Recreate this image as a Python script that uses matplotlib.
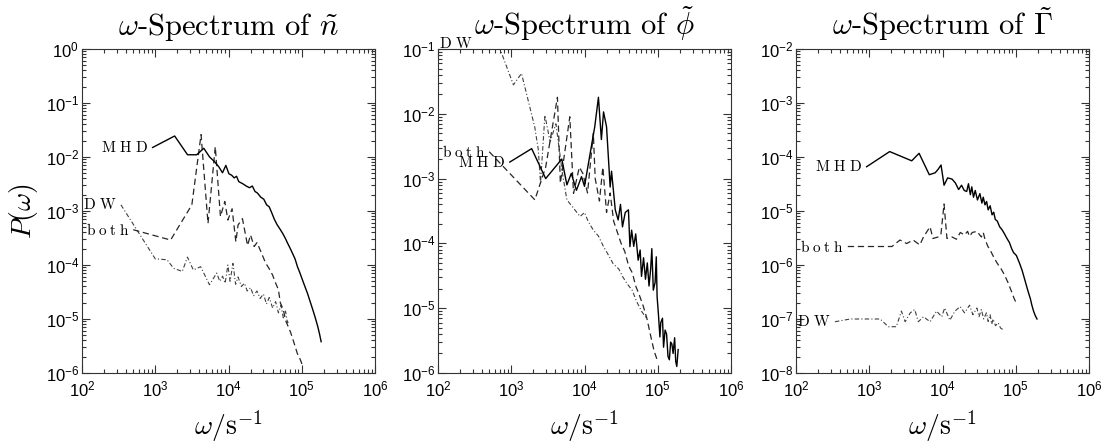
import matplotlib
matplotlib.use("Agg")
import matplotlib.pyplot as plt
from matplotlib.ticker import LogLocator, LogFormatterSciNotation, NullFormatter

plt.rcParams['font.family'] = ['Liberation Sans', 'DejaVu Sans']
plt.rcParams['mathtext.fontset'] = 'custom'
plt.rcParams['mathtext.rm'] = 'Liberation Sans'
plt.rcParams['mathtext.it'] = 'Liberation Sans:italic'
plt.rcParams['mathtext.bf'] = 'Liberation Sans:bold'

# ---- density spectrum (n) ----
n_mhd_w = [920, 1840, 2760, 3680, 4600, 5520, 6440, 7360, 8280, 9200, 10120, 11040, 11960,
           12880, 13800, 15640, 17480, 19320, 21160, 23000, 24840, 27600, 30360, 33120, 35880,
           38640, 42320, 46000, 50600, 55200, 59800, 64400, 69920, 75440, 80960, 87400, 93840,
           101200, 110400, 119600, 128800, 138000, 147200, 156400, 165600, 174800, 184000]
n_mhd_p = [1.5e-2, 2.45e-2, 1.1e-2, 1.1e-2, 1.45e-2, 1.0e-2, 8.2e-3, 6.6e-3, 5.1e-3, 7.0e-3,
           4.9e-3, 4.6e-3, 4.1e-3, 4.4e-3, 3.5e-3, 3.2e-3, 2.9e-3, 2.7e-3, 2.9e-3, 2.3e-3,
           2.15e-3, 1.8e-3, 1.65e-3, 1.3e-3, 1.2e-3, 9.5e-4, 7.0e-4, 5.6e-4, 4.6e-4, 3.8e-4,
           3.1e-4, 2.5e-4, 2.0e-4, 1.6e-4, 1.3e-4, 9.3e-5, 7.3e-5, 5.5e-5, 4.0e-5, 3.0e-5,
           2.2e-5, 1.65e-5, 1.25e-5, 9.5e-6, 7.2e-6, 5.3e-6, 3.8e-6]

n_dw_w = [340, 1000, 1450, 1780, 2340, 2750, 3310, 4170, 5500, 6900, 7600, 8300, 9000, 9800,
          10500, 11500, 12500, 13500, 15000, 16500, 18000, 20000, 22000, 24500, 27000, 30000,
          33000, 36000, 40000, 44000, 48000, 52000, 56000, 60000, 64000, 68000]
n_dw_p = [1.3e-3, 1.3e-4, 1.25e-4, 8.7e-5, 7.6e-5, 1.4e-4, 8.1e-5, 9.3e-5, 4.3e-5, 7.1e-5,
          5.0e-5, 6.2e-5, 4.6e-5, 1.0e-4, 5.0e-5, 1.07e-4, 4.4e-5, 6.0e-5, 4.0e-5, 4.6e-5,
          3.3e-5, 3.8e-5, 2.7e-5, 3.3e-5, 2.4e-5, 2.9e-5, 1.9e-5, 2.5e-5, 1.6e-5, 2.1e-5,
          1.3e-5, 1.8e-5, 1.05e-5, 1.4e-5, 8.5e-6, 9.5e-6]

n_both_w = [500, 1620, 3160, 4220, 5250, 6600, 7760, 8900, 9800, 11200, 12600, 13500, 15500,
            18200, 20000, 22400, 24500, 28000, 32000, 36000, 40000, 43500, 48000, 51000, 56000,
            60000, 66000, 71000, 79000, 87000, 95000, 102000]
n_both_p = [4.5e-4, 2.9e-4, 1.3e-3, 2.6e-2, 5.9e-4, 1.55e-2, 7.9e-4, 1.5e-3, 6.8e-4, 1.1e-3,
            2.7e-4, 5.5e-4, 7.2e-4, 2.3e-4, 3.6e-4, 2.2e-4, 2.6e-4, 1.7e-4, 1.1e-4, 8.5e-5,
            6.5e-5, 4.8e-5, 3.5e-5, 2.0e-5, 1.5e-5, 9.5e-6, 7.0e-6, 5.5e-6, 3.5e-6, 2.3e-6,
            1.8e-6, 1.4e-6]

# ---- potential spectrum (phi) ----
f_mhd_w = [955, 1900, 2950, 4900, 5750, 6600, 7760, 9100, 10000, 13800, 15500, 17000, 18200,
           20000, 22400, 23400, 26300, 28800, 31000, 33000, 36000, 39800, 41700, 44000, 47000,
           50000, 54000, 57500, 60000, 64000, 68000, 72000, 76000, 80000, 83000, 87000, 92000,
           95500, 98000, 102000, 107000, 110000, 116000, 120000, 126000, 132000, 138000,
           144000, 150000, 156000, 162000, 170000, 176000, 182000, 190000]
f_mhd_p = [1.8e-3, 2.9e-3, 1.0e-3, 2.0e-3, 8.0e-4, 1.2e-3, 6.6e-4, 1.07e-3, 7.6e-4, 6.3e-3,
           1.8e-2, 4.0e-3, 1.07e-2, 6.3e-3, 7.4e-4, 1.3e-3, 3.3e-4, 2.3e-4, 4.0e-4, 1.8e-4,
           3.0e-4, 3.3e-4, 8.9e-5, 1.6e-4, 9.0e-5, 1.4e-4, 5.5e-5, 7.9e-5, 3.1e-5, 6.0e-5,
           2.8e-5, 5.0e-5, 2.2e-5, 4.0e-5, 8.3e-5, 1.9e-5, 2.5e-5, 6.2e-5, 1.5e-5, 8.3e-6,
           3.6e-6, 6.0e-6, 7.0e-6, 2.5e-6, 4.6e-6, 4.0e-6, 1.8e-6, 1.6e-6, 3.0e-6, 2.8e-6,
           2.0e-6, 3.5e-6, 1.5e-6, 1.26e-6, 2.3e-6]

f_dw_w = [340, 1070, 1380, 2090, 2340, 2510, 2880, 3390, 4070, 5000, 5750, 7080, 8700, 10000,
          11200, 13200, 15500, 18200, 21400, 24500, 29500, 33000, 38000, 44700, 51000, 60000,
          70000]
f_dw_p = [0.9, 2.8e-2, 4.2e-2, 6.3e-3, 2.8e-3, 8.5e-4, 9.5e-3, 3.7e-3, 7.0e-3, 1.2e-3, 4.7e-4,
          3.5e-4, 2.6e-4, 3.0e-4, 2.2e-4, 1.6e-4, 1.3e-4, 8.9e-5, 6.5e-5, 4.9e-5, 4.0e-5,
          3.1e-5, 2.4e-5, 1.9e-5, 1.3e-5, 9.0e-6, 7.0e-6]

f_both_w = [500, 2100, 2950, 4270, 4680, 6300, 7080, 8500, 9500, 11000, 13200, 14000, 16000,
            17800, 20000, 22400, 25000, 28000, 31600, 35500, 40000, 45000, 50000, 56000, 63000,
            71000, 79000, 89000, 100000]
f_both_p = [2.6e-3, 4.7e-4, 1.5e-3, 1.8e-2, 8.5e-4, 9.0e-3, 5.9e-4, 1.5e-3, 1.2e-3, 6.0e-4,
            5.0e-3, 1.0e-3, 4.5e-4, 1.5e-3, 3.0e-4, 6.0e-4, 2.2e-4, 1.5e-4, 1.0e-4, 7.5e-5,
            4.5e-5, 3.5e-5, 2.2e-5, 1.6e-5, 1.1e-5, 7.0e-6, 4.0e-6, 2.2e-6, 1.5e-6]

# ---- flux spectrum (Gamma) ----
g_mhd_w = [920, 1900, 3800, 4790, 6600, 7940, 8700, 9550, 10500, 11750, 13500, 15000, 16600,
           18200, 19800, 21400, 22600, 24000, 25100, 26500, 28000, 30000, 32400, 34500, 36000,
           38000, 40000, 42000, 44700, 47500, 50000, 52500, 56000, 60300, 65000, 70000, 75900,
           82000, 88000, 93300, 102000, 112000, 122000, 132000, 141000, 150000, 158000, 166000,
           175000, 185000, 195000]
g_mhd_p = [6.6e-5, 1.26e-4, 8.5e-5, 1.17e-4, 4.7e-5, 5.1e-5, 5.9e-5, 7.1e-5, 3.0e-5, 4.1e-5,
           3.9e-5, 3.3e-5, 2.5e-5, 3.0e-5, 2.4e-5, 2.3e-5, 3.2e-5, 2.0e-5, 2.8e-5, 1.8e-5,
           2.4e-5, 1.6e-5, 2.1e-5, 1.4e-5, 1.8e-5, 1.3e-5, 1.5e-5, 1.05e-5, 1.25e-5, 8.5e-6,
           9.5e-6, 7.0e-6, 6.5e-6, 5.1e-6, 4.5e-6, 3.8e-6, 3.1e-6, 2.6e-6, 2.0e-6, 1.7e-6,
           1.5e-6, 1.1e-6, 8.0e-7, 5.5e-7, 4.0e-7, 3.0e-7, 2.4e-7, 1.8e-7, 1.4e-7, 1.15e-7,
           1.0e-7]

g_dw_w = [340, 550, 1020, 1410, 1820, 2340, 2750, 3090, 3630, 4170, 4680, 5500, 6760, 8300,
          9770, 10700, 12600, 14800, 17400, 20000, 23400, 26000, 29500, 31500, 33900, 36500,
          39800, 42000, 44700, 47000, 49000, 53000, 57500, 62000, 67600]
g_dw_p = [8.9e-8, 1.0e-7, 1.0e-7, 1.0e-7, 7.2e-8, 7.2e-8, 1.4e-7, 8.9e-8, 1.3e-7, 1.5e-7,
          8.9e-8, 1.1e-7, 8.9e-8, 1.4e-7, 1.1e-7, 1.6e-7, 9.5e-8, 1.4e-7, 1.7e-7, 1.3e-7,
          1.8e-7, 1.2e-7, 1.6e-7, 1.1e-7, 1.5e-7, 1.0e-7, 1.3e-7, 9.0e-8, 1.2e-7, 8.0e-8,
          1.0e-7, 7.5e-8, 8.5e-8, 6.8e-8, 6.3e-8]

g_both_w = [510, 1150, 2040, 2630, 3240, 3980, 4900, 5500, 6760, 7400, 8700, 9500, 10500,
            11500, 13500, 15500, 17500, 20000, 22000, 23400, 25500, 29500, 33900, 36000, 38000,
            41700, 44700, 50000, 56000, 63000, 70000, 78000, 87000, 95000, 102000]
g_both_p = [2.2e-6, 2.2e-6, 2.2e-6, 2.9e-6, 2.5e-6, 2.9e-6, 2.35e-6, 3.3e-6, 5.1e-6, 3.1e-6,
            3.3e-6, 3.6e-6, 1.35e-5, 3.1e-6, 3.3e-6, 3.0e-6, 4.0e-6, 3.6e-6, 4.2e-6, 3.4e-6,
            4.0e-6, 4.2e-6, 3.3e-6, 4.0e-6, 3.0e-6, 2.2e-6, 1.9e-6, 1.4e-6, 1.07e-6, 8.5e-7,
            6.6e-7, 4.8e-7, 3.3e-7, 2.4e-7, 1.95e-7]

titles = [r'$\omega$-Spectrum of $\tilde{n}$',
          r'$\omega$-Spectrum of $\tilde{\phi}$',
          r'$\omega$-Spectrum of $\tilde{\Gamma}$']
ylims = [(1e-6, 1e0), (1e-6, 1e-1), (1e-8, 1e-2)]
lefts = [82, 438, 796]

lab_mhd = r'$\mathrm{M\ H\ D}$'
lab_dw = r'$\mathrm{D\ W}$'
lab_both = r'$\mathrm{b\;o\;t\;h}$'

SOLID = dict(color='black', lw=1.0, ls='-')
DASH = dict(color='0.15', lw=0.9, ls=(0, (5, 3)))
DOTDASH = dict(color='0.25', lw=0.8, ls=(0, (4, 2, 1, 2)))

fig = plt.figure(figsize=(11.12, 4.45), dpi=100)
W, H = 1112.0, 445.0
axes = []
for i in range(3):
    ax = fig.add_axes([lefts[i] / W, 72 / H, 293 / W, 324 / H])
    ax.set_xscale('log')
    ax.set_yscale('log')
    ax.set_xlim(1e2, 1e6)
    ax.set_ylim(*ylims[i])
    ax.xaxis.set_major_locator(LogLocator(base=10, numticks=10))
    ax.yaxis.set_major_locator(LogLocator(base=10, numticks=12))
    ax.xaxis.set_minor_locator(LogLocator(base=10, subs=range(2, 10), numticks=20))
    ax.yaxis.set_minor_locator(LogLocator(base=10, subs=range(2, 10), numticks=20))
    ax.xaxis.set_minor_formatter(NullFormatter())
    ax.yaxis.set_minor_formatter(NullFormatter())
    ax.xaxis.set_major_formatter(LogFormatterSciNotation())
    ax.yaxis.set_major_formatter(LogFormatterSciNotation())
    ax.tick_params(which='both', direction='in', top=True, right=True, width=0.8, color='0.2')
    ax.tick_params(which='major', length=6, labelsize=12)
    ax.tick_params(which='minor', length=3)
    ax.tick_params(axis='y', pad=2)
    ax.tick_params(axis='x', pad=5)
    for lab in ax.get_yticklabels():
        lab.set_verticalalignment('center_baseline')
    for s in ax.spines.values():
        s.set_linewidth(0.8)
        s.set_color('0.2')
    ax.set_title(titles[i], fontsize=22, family='cmr10', math_fontfamily='cm', pad=10)
    ax.set_xlabel(r'$\omega/\mathrm{s}^{-1}$', fontsize=20, math_fontfamily='cm', labelpad=6)
    axes.append(ax)

axes[0].set_ylabel(r'$P(\omega)$', fontsize=20, math_fontfamily='cm')


def label(ax, w, p, txt):
    ax.annotate(txt, xy=(w[0], p[0]), xytext=(-3, 0), textcoords='offset points',
                ha='right', va='center', fontsize=11, math_fontfamily='cm')


ax = axes[0]
ax.plot(n_dw_w, n_dw_p, **DOTDASH)
ax.plot(n_both_w, n_both_p, **DASH)
ax.plot(n_mhd_w, n_mhd_p, **SOLID)
label(ax, n_mhd_w, n_mhd_p, lab_mhd)
label(ax, n_dw_w, n_dw_p, lab_dw)
label(ax, n_both_w, n_both_p, lab_both)

ax = axes[1]
ax.plot(f_dw_w, f_dw_p, **DOTDASH)
ax.plot(f_both_w, f_both_p, **DASH)
ax.plot(f_mhd_w, f_mhd_p, **SOLID)
label(ax, f_mhd_w, f_mhd_p, lab_mhd)
label(ax, f_both_w, f_both_p, lab_both)
ax.text(0.117, 1.018, lab_dw, transform=ax.transAxes, ha='right', va='center',
        fontsize=11, math_fontfamily='cm')

ax = axes[2]
ax.plot(g_dw_w, g_dw_p, **DOTDASH)
ax.plot(g_both_w, g_both_p, **DASH)
ax.plot(g_mhd_w, g_mhd_p, **SOLID)
label(ax, g_mhd_w, g_mhd_p, lab_mhd)
label(ax, g_dw_w, g_dw_p, lab_dw)
label(ax, g_both_w, g_both_p, lab_both)

fig.savefig('out.png', dpi=100)
